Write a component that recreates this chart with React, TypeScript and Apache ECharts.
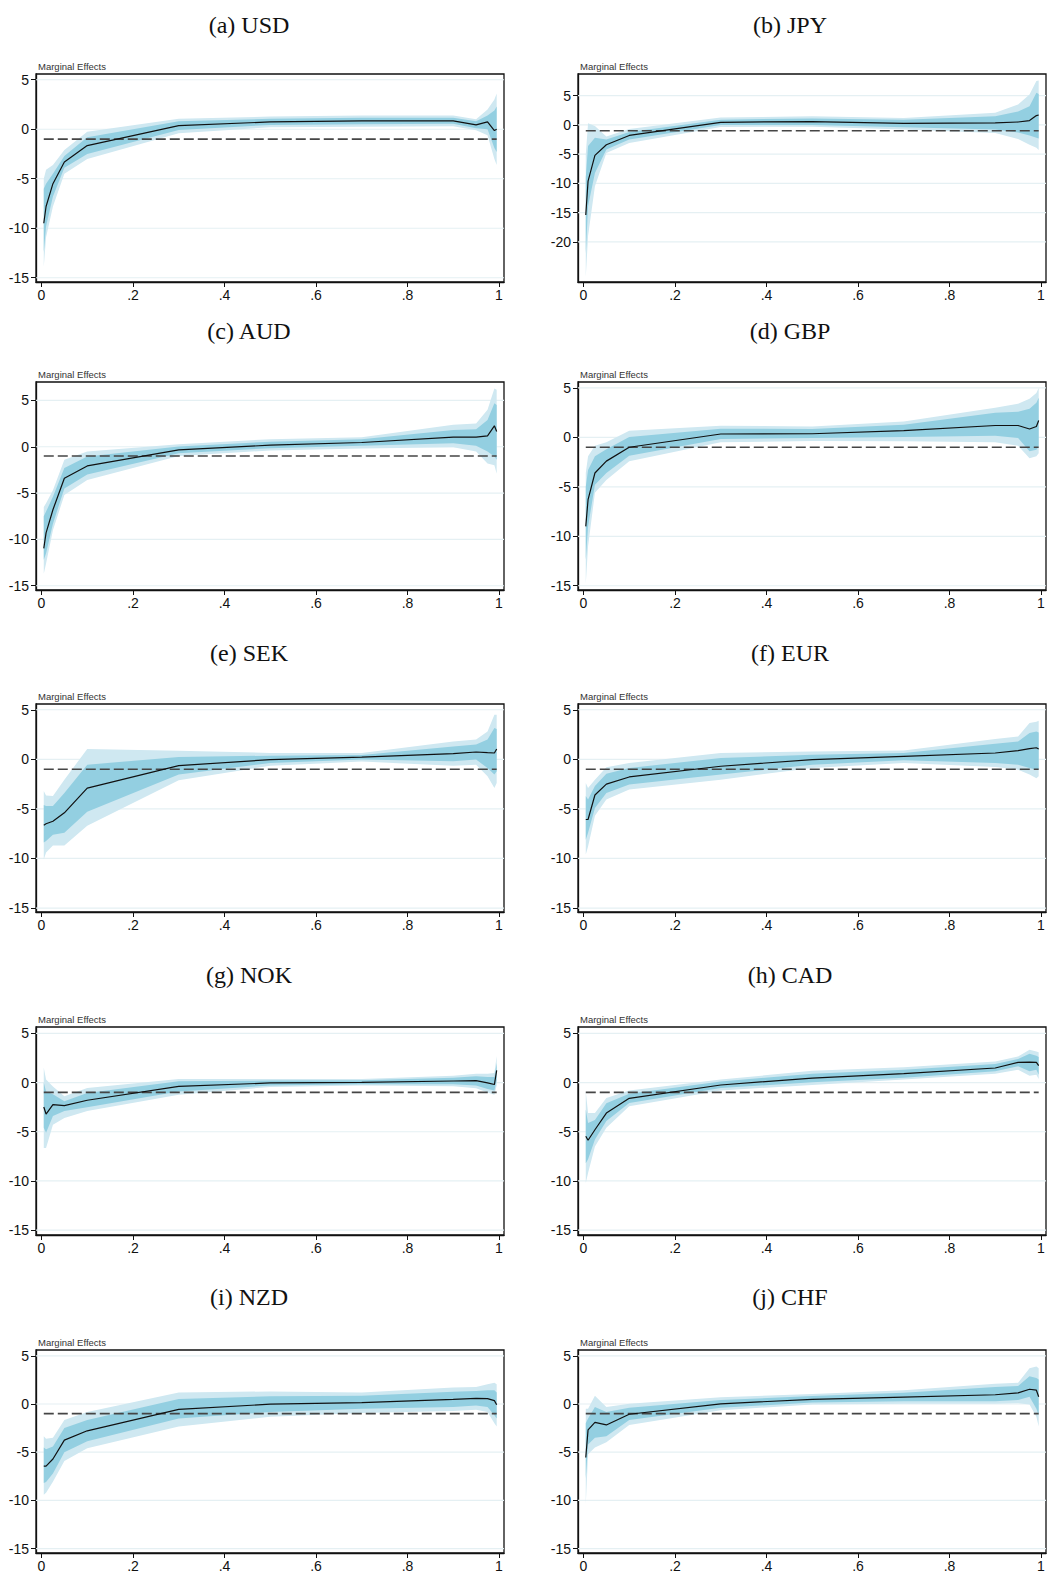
import React, { useEffect, useRef } from "react";
import * as echarts from "echarts";

// ---------- data ----------
const quantiles = [0.005, 0.01, 0.025, 0.05, 0.1, 0.3, 0.5, 0.7, 0.9, 0.95, 0.975, 0.99, 0.995];
const xTicks = [0, 0.2, 0.4, 0.6, 0.8, 1];
const yTicksStd = [-15, -10, -5, 0, 5];
const yTicksJpy = [-20, -15, -10, -5, 0, 5];
const refValue = -1;

const usdEst = [-9.5, -7.8, -5.5, -3.3, -1.65, 0.37, 0.74, 0.84, 0.84, 0.44, 0.74, -0.13, 0.0];
const usdOutHi = [-5.0, -4.1, -3.6, -2.1, -0.25, 1.05, 1.28, 1.4, 1.4, 1.0, 2.0, 3.0, 3.6];
const usdInHi = [-6.0, -5.5, -4.5, -2.7, -0.8, 0.8, 1.05, 1.15, 1.15, 0.8, 1.4, 1.9, 2.3];
const usdInLo = [-12.4, -9.8, -6.8, -3.9, -2.5, -0.07, 0.44, 0.5, 0.55, 0.1, 0.0, -1.9, -2.3];
const usdOutLo = [-13.9, -10.9, -7.8, -4.5, -3.0, -0.4, 0.2, 0.25, 0.3, -0.1, -0.6, -3.0, -3.6];

const jpyEst = [-15.4, -9.6, -5.2, -3.4, -1.8, 0.45, 0.57, 0.28, 0.34, 0.5, 0.74, 1.6, 1.7];
const jpyOutHi = [-5.0, 0.3, -0.2, -2.0, -0.7, 1.25, 1.5, 1.2, 2.1, 3.5, 5.2, 7.5, 7.6];
const jpyInHi = [-9.0, -3.6, -2.2, -2.5, -1.2, 0.9, 1.1, 0.9, 1.5, 2.3, 3.2, 5.5, 5.3];
const jpyInLo = [-22.0, -13.9, -8.2, -4.2, -2.5, 0.0, 0.0, -0.4, -0.8, -1.3, -1.8, -2.2, -2.3];
const jpyOutLo = [-26.0, -19.0, -10.5, -4.8, -3.1, -0.35, -0.3, -0.8, -1.4, -2.4, -3.4, -3.9, -4.3];

const audEst = [-10.97, -9.3, -6.8, -3.4, -2.07, -0.33, 0.17, 0.46, 1.03, 1.03, 1.18, 2.26, 1.65];
const audOutHi = [-6.5, -6.1, -4.7, -1.4, -0.5, 0.28, 0.82, 1.03, 2.37, 2.5, 4.0, 6.3, 6.15];
const audInHi = [-7.5, -7.0, -5.4, -2.3, -1.05, 0.03, 0.55, 0.82, 1.8, 1.9, 2.9, 4.7, 4.5];
const audInLo = [-12.2, -11.5, -8.3, -4.5, -3.0, -0.7, -0.15, 0.1, 0.38, 0.1, -0.5, -1.05, -1.4];
const audOutLo = [-13.7, -12.6, -9.0, -5.2, -3.6, -1.0, -0.4, -0.2, -0.05, -0.5, -1.8, -2.0, -2.9];

const gbpEst = [-9.0, -6.3, -3.6, -2.4, -1.0, 0.34, 0.37, 0.68, 1.2, 1.2, 0.85, 1.1, 1.7];
const gbpOutHi = [-3.6, -1.9, -0.85, -0.5, 0.68, 1.18, 1.1, 1.6, 3.0, 3.4, 3.9, 4.5, 5.0];
const gbpInHi = [-5.0, -3.3, -1.9, -1.2, 0.03, 0.88, 0.85, 1.28, 2.5, 2.6, 2.9, 3.5, 4.0];
const gbpInLo = [-12.4, -9.0, -4.8, -3.6, -1.85, -0.17, -0.07, 0.03, 0.17, -0.07, -1.4, -1.25, -0.9];
const gbpOutLo = [-14.8, -11.0, -5.6, -4.3, -2.4, -0.5, -0.37, -0.4, -0.5, -0.85, -2.1, -1.9, -1.6];

const sekEst = [-6.64, -6.5, -6.25, -5.4, -2.9, -0.64, -0.03, 0.23, 0.57, 0.74, 0.67, 0.64, 1.04];
const sekOutHi = [-3.2, -3.65, -3.7, -2.05, 1.04, 0.87, 0.64, 0.64, 1.8, 2.0, 2.8, 4.5, 4.5];
const sekInHi = [-4.6, -4.7, -4.7, -3.4, -0.54, 0.23, 0.37, 0.44, 1.3, 1.5, 2.0, 3.15, 3.05];
const sekInLo = [-8.4, -8.25, -7.6, -7.4, -5.3, -1.54, -0.37, -0.03, -0.2, -0.03, -0.87, -1.54, -1.2];
const sekOutLo = [-10.1, -9.4, -8.7, -8.7, -6.7, -2.1, -0.64, -0.23, -0.64, -0.54, -1.7, -2.9, -2.4];

const eurEst = [-6.07, -6.07, -3.6, -2.5, -1.78, -0.7, -0.03, 0.3, 0.64, 0.87, 1.07, 1.17, 1.04];
const eurOutHi = [-2.4, -2.9, -2.05, -0.8, -0.37, 0.64, 0.8, 0.9, 2.05, 2.3, 3.66, 3.8, 3.9];
const eurInHi = [-3.7, -4.06, -2.7, -1.45, -0.87, 0.13, 0.47, 0.64, 1.58, 1.8, 2.65, 2.8, 2.7];
const eurInLo = [-8.1, -7.4, -4.9, -3.4, -2.55, -1.54, -0.54, -0.1, -0.37, -0.54, -0.87, -1.04, -0.97];
const eurOutLo = [-9.6, -8.8, -5.7, -4.06, -3.05, -2.05, -0.87, -0.37, -0.77, -1.04, -1.54, -1.9, -1.7];

const nokEst = [-2.48, -3.2, -2.25, -2.35, -1.8, -0.38, -0.04, 0.02, 0.16, 0.19, -0.04, -0.2, 1.24];
const nokOutHi = [1.5, 0.3, -0.4, -1.4, -0.55, 0.36, 0.36, 0.36, 0.7, 0.9, 0.9, 0.97, 2.7];
const nokInHi = [0.0, -0.9, -1.2, -1.9, -1.05, 0.13, 0.2, 0.23, 0.5, 0.63, 0.57, 0.57, 2.0];
const nokInLo = [-4.6, -5.1, -3.4, -2.9, -2.5, -0.9, -0.3, -0.18, -0.18, -0.3, -0.65, -0.8, 0.23];
const nokOutLo = [-6.65, -6.65, -4.3, -3.6, -2.9, -1.23, -0.45, -0.3, -0.38, -0.58, -1.0, -1.23, -0.3];

const cadEst = [-5.46, -5.87, -4.8, -3.1, -1.6, -0.25, 0.46, 0.9, 1.48, 2.05, 2.08, 2.05, 1.72];
const cadOutHi = [-0.9, -3.1, -3.1, -1.57, -0.8, 0.3, 1.2, 1.55, 2.15, 2.66, 3.34, 3.17, 3.07];
const cadInHi = [-2.75, -4.1, -3.8, -2.1, -1.13, 0.1, 0.9, 1.3, 1.88, 2.4, 2.93, 2.73, 2.6];
const cadInLo = [-8.2, -7.8, -5.8, -3.9, -2.07, -0.55, 0.02, 0.5, 1.14, 1.65, 1.14, 1.3, 0.8];
const cadOutLo = [-10.2, -9.2, -6.5, -4.6, -2.4, -0.8, -0.25, 0.3, 0.9, 1.3, 0.7, 0.8, 0.36];

const nzdEst = [-6.45, -6.45, -5.7, -3.75, -2.78, -0.56, -0.02, 0.15, 0.49, 0.59, 0.56, 0.35, -0.08];
const nzdOutHi = [-3.35, -3.6, -3.5, -1.67, -0.82, 1.2, 1.3, 1.2, 1.7, 1.77, 2.04, 2.2, 2.04];
const nzdInHi = [-4.5, -4.7, -4.4, -2.5, -1.67, 0.52, 0.8, 0.86, 1.26, 1.36, 1.43, 1.43, 1.2];
const nzdInLo = [-8.2, -8.1, -7.2, -5.0, -3.85, -1.5, -0.82, -0.49, -0.32, -0.15, -0.32, -1.16, -1.5];
const nzdOutLo = [-9.4, -9.2, -8.06, -5.9, -4.6, -2.34, -1.33, -0.93, -0.72, -0.59, -0.82, -2.0, -2.34];

const chfEst = [-5.54, -2.68, -1.9, -2.17, -1.06, 0.02, 0.49, 0.72, 0.96, 1.16, 1.53, 1.43, 0.76];
const chfOutHi = [-0.5, -0.5, 0.86, -0.32, 0.02, 0.69, 1.03, 1.43, 2.1, 2.2, 3.7, 3.9, 3.7];
const chfInHi = [-2.0, -1.5, -0.32, -0.82, -0.39, 0.42, 0.82, 1.16, 1.77, 1.87, 2.88, 2.7, 2.54];
const chfInLo = [-7.7, -4.2, -3.5, -3.35, -1.67, -0.39, 0.15, 0.29, 0.29, 0.42, 0.76, -0.49, -1.16];
const chfOutLo = [-10.4, -5.2, -4.5, -3.96, -2.17, -0.66, -0.05, 0.02, 0.02, 0.08, -0.05, -1.33, -2.34];

const panelTitles = ["(a) USD", "(b) JPY", "(c) AUD", "(d) GBP", "(e) SEK", "(f) EUR", "(g) NOK", "(h) CAD", "(i) NZD", "(j) CHF"];
const panelData = [
  [usdEst, usdOutLo, usdOutHi, usdInLo, usdInHi],
  [jpyEst, jpyOutLo, jpyOutHi, jpyInLo, jpyInHi],
  [audEst, audOutLo, audOutHi, audInLo, audInHi],
  [gbpEst, gbpOutLo, gbpOutHi, gbpInLo, gbpInHi],
  [sekEst, sekOutLo, sekOutHi, sekInLo, sekInHi],
  [eurEst, eurOutLo, eurOutHi, eurInLo, eurInHi],
  [nokEst, nokOutLo, nokOutHi, nokInLo, nokInHi],
  [cadEst, cadOutLo, cadOutHi, cadInLo, cadInHi],
  [nzdEst, nzdOutLo, nzdOutHi, nzdInLo, nzdInHi],
  [chfEst, chfOutLo, chfOutHi, chfInLo, chfInHi],
];
const panelYTicks = [yTicksStd, yTicksJpy, yTicksStd, yTicksStd, yTicksStd, yTicksStd, yTicksStd, yTicksStd, yTicksStd, yTicksStd];
const panelYRange = [
  [-15.43, 5.58], [-26.84, 8.7], [-15.46, 6.99], [-15.43, 5.6], [-15.4, 5.58],
  [-15.4, 5.58], [-15.5, 5.65], [-15.5, 5.65], [-15.45, 5.6], [-15.45, 5.6],
];
const xRange = [-0.012, 1.011];

// ---------- layout / style ----------
const colLeft = [36, 578];
const gridW = 468;
const rowTop = [74, 382, 704, 1027, 1350];
const gridH = 208;
const titleY = [25, 331, 653, 975, 1297];
const titleX = [249, 790];

const SANS = "'Liberation Sans', Arial, Helvetica, sans-serif";
const SERIF = "'Liberation Serif', 'Times New Roman', serif";
const OUTER = "#cfe8f1";
const INNER = "#93cfe1";
const GRIDC = "#e5f0f3";

function fmtX(v: number) {
  if (v === 0) return "0";
  if (v === 1) return "1";
  return String(v).replace(/^0/, "");
}

function bandSeries(idx: number, lo: number[], hi: number[], color: string, z: number) {
  return {
    type: "custom",
    xAxisIndex: idx,
    yAxisIndex: idx,
    z,
    silent: true,
    data: quantiles.map((q, i) => [q, lo[i], hi[i]]),
    encode: { x: 0, y: [1, 2] },
    renderItem: (params: any, api: any) => {
      if (params.dataIndex !== 0) return null;
      const upper = quantiles.map((q, i) => api.coord([q, hi[i]]));
      const lower = quantiles.map((q, i) => api.coord([q, lo[i]])).reverse();
      return {
        type: "polygon",
        shape: { points: upper.concat(lower) },
        style: { fill: color, stroke: null },
      };
    },
  };
}

function gridLineSeries(idx: number, ticks: number[]) {
  return {
    type: "custom",
    xAxisIndex: idx,
    yAxisIndex: idx,
    z: 1,
    silent: true,
    data: ticks.map((t) => [0.5, t]),
    encode: { x: 0, y: 1 },
    renderItem: (params: any, api: any) => {
      const v = api.value(1);
      const p1 = api.coord([xRange[0], v]);
      const p2 = api.coord([xRange[1], v]);
      return {
        type: "line",
        shape: { x1: p1[0], y1: p1[1], x2: p2[0], y2: p2[1] },
        style: { stroke: GRIDC, lineWidth: 1.2 },
      };
    },
  };
}

function buildOption() {
  const grids: any[] = [];
  const xAxes: any[] = [];
  const yAxes: any[] = [];
  const series: any[] = [];
  const graphics: any[] = [];

  panelTitles.forEach((title, i) => {
    const col = i % 2;
    const row = Math.floor(i / 2);
    const [est, outLo, outHi, inLo, inHi] = panelData[i];
    const ticks = panelYTicks[i];
    const [yMin, yMax] = panelYRange[i];

    grids.push({
      left: colLeft[col],
      top: rowTop[row],
      width: gridW,
      height: gridH,
      show: true,
      borderColor: "#111",
      borderWidth: 1.3,
      backgroundColor: "#fff",
    });
    xAxes.push({
      type: "value",
      gridIndex: i,
      min: xRange[0],
      max: xRange[1],
      axisLine: { show: true, onZero: false, lineStyle: { color: "#111", width: 1.3 } },
      axisTick: { show: true, customValues: xTicks, length: 5, lineStyle: { color: "#111", width: 1 } },
      axisLabel: {
        customValues: xTicks,
        formatter: (v: number) => fmtX(v),
        fontSize: 14,
        fontFamily: SANS,
        color: "#111",
        margin: 6,
      },
      splitLine: { show: false },
    });
    yAxes.push({
      type: "value",
      gridIndex: i,
      min: yMin,
      max: yMax,
      axisLine: { show: true, onZero: false, lineStyle: { color: "#111", width: 1.3 } },
      axisTick: { show: true, customValues: ticks, length: 5, lineStyle: { color: "#111", width: 1 } },
      axisLabel: {
        customValues: ticks,
        fontSize: 14,
        fontFamily: SANS,
        color: "#111",
        margin: 7,
      },
      splitLine: { show: false },
    });

    series.push(gridLineSeries(i, ticks));
    series.push(bandSeries(i, outLo, outHi, OUTER, 2));
    series.push(bandSeries(i, inLo, inHi, INNER, 3));
    series.push({
      type: "line",
      xAxisIndex: i,
      yAxisIndex: i,
      z: 4,
      silent: true,
      symbol: "none",
      data: [
        [quantiles[0], refValue],
        [quantiles[quantiles.length - 1], refValue],
      ],
      lineStyle: { color: "#454545", width: 1.6, type: [10, 4] },
    });
    series.push({
      type: "line",
      xAxisIndex: i,
      yAxisIndex: i,
      z: 5,
      silent: true,
      symbol: "none",
      data: quantiles.map((q, k) => [q, est[k]]),
      lineStyle: { color: "#111", width: 1.2 },
    });

    graphics.push({
      type: "text",
      x: titleX[col],
      y: titleY[row],
      style: {
        text: title,
        fontFamily: SERIF,
        fontSize: 24,
        fill: "#111",
        align: "center",
        verticalAlign: "middle",
      },
    });
    graphics.push({
      type: "text",
      x: colLeft[col] + 2,
      y: rowTop[row] - 7.5,
      style: {
        text: "Marginal Effects",
        fontFamily: SANS,
        fontSize: 9.5,
        fill: "#333",
        align: "left",
        verticalAlign: "middle",
      },
    });
  });

  return {
    animation: false,
    backgroundColor: "#fff",
    grid: grids,
    xAxis: xAxes,
    yAxis: yAxes,
    series,
    graphic: graphics,
  };
}

export default function App() {
  const ref = useRef<HTMLDivElement>(null);
  useEffect(() => {
    if (!ref.current) return;
    const chart = echarts.init(ref.current, undefined, { renderer: "svg" });
    chart.setOption(buildOption() as any);
    return () => chart.dispose();
  }, []);
  return (
    <div
      ref={ref}
      style={{ position: "absolute", left: 0, top: 0, width: 1048, height: 1573, background: "#fff" }}
    />
  );
}
